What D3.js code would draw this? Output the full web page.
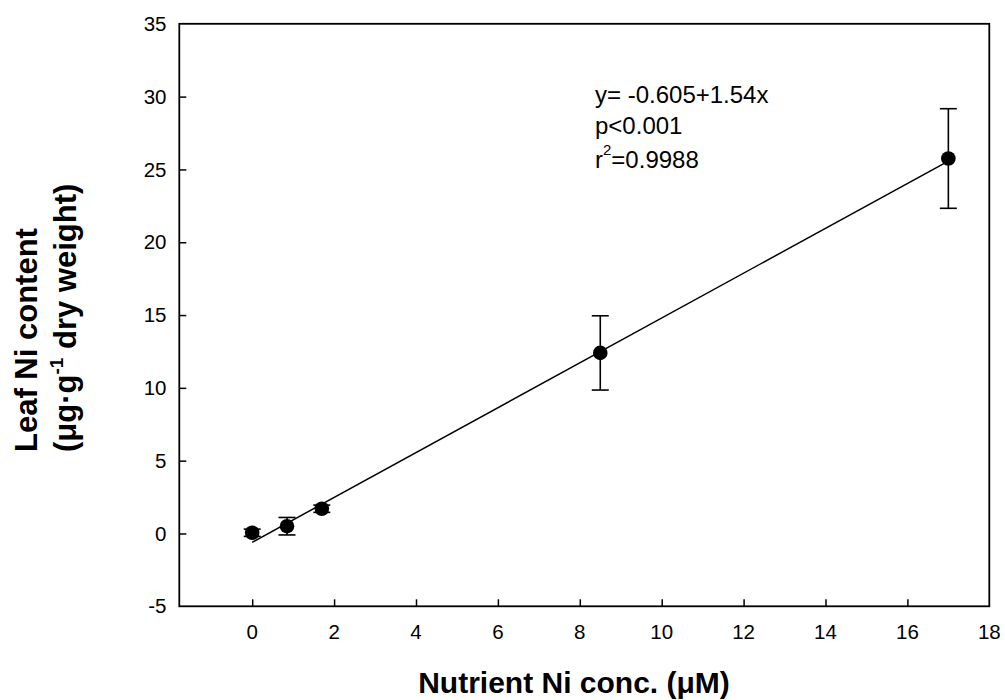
<!DOCTYPE html>
<html><head><meta charset="utf-8">
<script src="https://cdn.jsdelivr.net/npm/d3@7"></script>
<style>body{margin:0;background:#fff}svg{display:block}text{font-family:"Liberation Sans",Arial,sans-serif}</style>
</head><body>
<svg id="c" width="1005" height="700"></svg>
<script>
const xValues = [0, 0.85, 1.7, 8.5, 17];
const yValues = [0.05, 0.5, 1.7, 12.4, 25.75];
const yErrors = [0.25, 0.6, 0.25, 2.55, 3.42];
const xTicks = [0, 2, 4, 6, 8, 10, 12, 14, 16, 18];
const yTicks = [-5, 0, 5, 10, 15, 20, 25, 30, 35];
const fitIntercept = -0.605, fitSlope = 1.54;
const fitRange = [0, 17];

const svg = d3.select("#c");
const L = 179.3, R = 989.3, T = 23.8, B = 606.3;
const x = d3.scaleLinear().domain([-1.78, 18]).range([L, R]);
const y = d3.scaleLinear().domain([-5, 35]).range([B, T]);

const xAxis = d3.axisTop(x).tickValues(xTicks.filter(v => v < 18)).tickSize(7).tickFormat("");
svg.append("g").attr("transform", `translate(0,${B})`).call(xAxis)
  .call(g => { g.select(".domain").remove(); g.selectAll("line").attr("stroke","#000").attr("stroke-width",1.5); });
const yAxis = d3.axisRight(y).tickValues(yTicks.filter(v => v > -5 && v < 35)).tickSize(7).tickFormat("");
svg.append("g").attr("transform", `translate(${L},0)`).call(yAxis)
  .call(g => { g.select(".domain").remove(); g.selectAll("line").attr("stroke","#000").attr("stroke-width",1.5); });

svg.append("g").selectAll("text").data(xTicks).join("text")
  .attr("x", d => x(d)).attr("y", 639).attr("text-anchor","middle")
  .attr("font-size", 20.5).text(d => d);
svg.append("g").selectAll("text").data(yTicks).join("text")
  .attr("x", 166.5).attr("y", d => y(d)).attr("dy","0.35em").attr("text-anchor","end")
  .attr("font-size", 20.5).text(d => d);

svg.append("rect").attr("x", L).attr("y", T).attr("width", R - L).attr("height", B - T)
  .attr("fill","none").attr("stroke","#000").attr("stroke-width",1.8);

svg.append("line")
  .attr("x1", x(fitRange[0])).attr("y1", y(fitIntercept + fitSlope*fitRange[0]))
  .attr("x2", x(fitRange[1])).attr("y2", y(fitIntercept + fitSlope*fitRange[1]))
  .attr("stroke","#000").attr("stroke-width",1.5);

const pts = xValues.map((v,i) => ({x: v, y: yValues[i], e: yErrors[i]}));
const eb = svg.append("g").attr("stroke","#000").attr("stroke-width",1.6);
pts.forEach(p => {
  eb.append("line").attr("x1", x(p.x)).attr("x2", x(p.x)).attr("y1", y(p.y - p.e)).attr("y2", y(p.y + p.e));
  [p.y - p.e, p.y + p.e].forEach(v => eb.append("line")
    .attr("x1", x(p.x) - 8.5).attr("x2", x(p.x) + 8.5).attr("y1", y(v)).attr("y2", y(v)));
});
svg.append("g").selectAll("circle").data(pts).join("circle")
  .attr("cx", d => x(d.x)).attr("cy", d => y(d.y)).attr("r", 7.3).attr("fill","#000");

const ann = svg.append("g").attr("font-size", 24);
ann.append("text").attr("x", 595).attr("y", 103).text("y= -0.605+1.54x");
ann.append("text").attr("x", 595).attr("y", 134).text("p<0.001");
const t3 = ann.append("text").attr("x", 595).attr("y", 168);
t3.append("tspan").text("r");
t3.append("tspan").attr("font-size", 15).attr("dy", -13).text("2");
t3.append("tspan").attr("dy", 13).text("=0.9988");

svg.append("text").attr("x", 574).attr("y", 693).attr("text-anchor","middle")
  .attr("font-size", 30).attr("font-weight","bold").text("Nutrient Ni conc. (μM)");
const yl = svg.append("g").attr("transform","rotate(-90)")
  .attr("font-size", 31).attr("font-weight","bold").attr("text-anchor","start");
yl.append("text").attr("x", -452).attr("y", 37).text("Leaf Ni content");
const l2 = yl.append("text").attr("x", -452).attr("y", 76);
l2.append("tspan").text("(μg·g");
l2.append("tspan").attr("font-size", 19).attr("dy", -13).text("-1");
l2.append("tspan").attr("dy", 13).text(" dry weight)");
</script>
</body></html>
